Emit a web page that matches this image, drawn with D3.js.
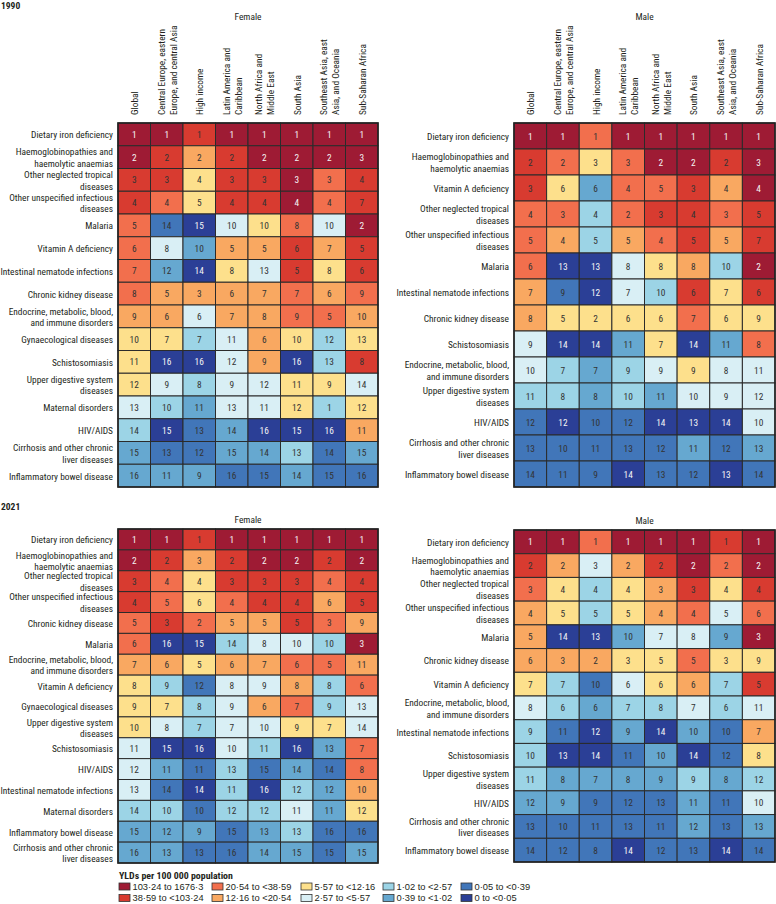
<!DOCTYPE html>
<html><head><meta charset="utf-8">
<script src="https://cdn.jsdelivr.net/npm/d3@7"></script>
<style>
body{margin:0;background:#fff;}
text{font-family:'Liberation Sans Narrow','Roboto Condensed','DejaVu Sans Condensed','Liberation Sans',sans-serif;fill:#231f20;}
text.leg{font-family:'Liberation Sans',Arial,sans-serif;}
</style></head>
<body><svg id="chart" width="776" height="904"></svg>
<script>
const regions = ["Global","Central Europe, eastern|Europe, and central Asia","High income","Latin America and|Caribbean","North Africa and|Middle East","South Asia","Southeast Asia, east|Asia, and Oceania","Sub-Saharan Africa"];
const binLabels = ["103·24 to 1676·3","38·59 to <103·24","20·54 to <38·59","12·16 to <20·54","5·57 to <12·16","2·57 to <5·57","1·02 to <2·57","0·39 to <1·02","0·05 to <0·39","0 to <0·05"];
const binColors = ["#9e1b34","#d83b30","#f26f4d","#f9a861","#fde08c","#d9eff5","#9cd4e6","#66a8d0","#4176b9","#2b3f96"];

const causesF1990 = ["Dietary iron deficiency","Haemoglobinopathies and|haemolytic anaemias","Other neglected tropical|diseases","Other unspecified infectious|diseases","Malaria","Vitamin A deficiency","Intestinal nematode infections","Chronic kidney disease","Endocrine, metabolic, blood,|and immune disorders","Gynaecological diseases","Schistosomiasis","Upper digestive system|diseases","Maternal disorders","HIV/AIDS","Cirrhosis and other chronic|liver diseases","Inflammatory bowel disease"];
const ranksF1990 = [[1,1,1,1,1,1,1,1],[2,2,2,2,2,2,2,3],[3,3,4,3,3,3,3,4],[4,4,5,4,4,4,4,7],[5,14,15,10,10,8,10,2],[6,8,10,5,5,6,7,5],[7,12,14,8,13,5,8,6],[8,5,3,6,7,7,6,9],[9,6,6,7,8,9,5,10],[10,7,7,11,6,10,12,13],[11,16,16,12,9,16,13,8],[12,9,8,9,12,11,9,14],[13,10,11,13,11,12,1,12],[14,15,13,14,16,15,16,11],[15,13,12,15,14,13,14,15],[16,11,9,16,15,14,15,16]];
const binsF1990 = [[0,0,1,0,0,0,0,0],[0,1,3,1,0,0,0,0],[1,1,4,1,1,0,2,1],[1,2,4,1,1,0,2,1],[2,8,9,5,4,2,5,0],[2,5,7,3,3,1,3,1],[2,7,9,4,5,1,4,1],[2,3,3,3,3,2,3,2],[3,3,5,3,3,2,2,3],[4,4,6,5,3,4,6,4],[4,9,9,5,3,9,6,1],[4,5,6,5,5,4,4,5],[5,6,7,5,5,4,6,4],[6,9,8,7,9,9,9,3],[7,8,8,7,7,6,8,7],[7,7,7,8,8,7,8,8]];

const causesM1990 = ["Dietary iron deficiency","Haemoglobinopathies and|haemolytic anaemias","Vitamin A deficiency","Other neglected tropical|diseases","Other unspecified infectious|diseases","Malaria","Intestinal nematode infections","Chronic kidney disease","Schistosomiasis","Endocrine, metabolic, blood,|and immune disorders","Upper digestive system|diseases","HIV/AIDS","Cirrhosis and other chronic|liver diseases","Inflammatory bowel disease"];
const ranksM1990 = [[1,1,1,1,1,1,1,1],[2,2,3,3,2,2,2,3],[3,6,6,4,5,3,4,4],[4,3,4,2,3,4,3,5],[5,4,5,5,4,5,5,7],[6,13,13,8,8,8,10,2],[7,9,12,7,10,6,7,6],[8,5,2,6,6,7,6,9],[9,14,14,11,7,14,11,8],[10,7,7,9,9,9,8,11],[11,8,8,10,11,10,9,12],[12,12,10,12,14,13,14,10],[13,10,11,13,12,11,12,13],[14,11,9,14,13,12,13,14]];
const binsM1990 = [[0,0,2,0,0,0,0,0],[1,2,4,2,0,0,1,0],[1,4,7,2,2,1,3,0],[2,2,6,2,1,1,2,1],[2,3,6,3,2,1,3,1],[2,9,9,5,4,3,6,0],[3,8,9,5,6,1,4,1],[3,4,4,4,4,2,4,4],[5,9,9,7,4,9,7,2],[5,6,7,6,5,4,5,5],[6,6,7,6,7,5,5,5],[8,9,8,8,9,9,9,5],[8,8,8,8,8,7,8,7],[8,8,8,9,8,8,9,8]];

const causesF2021 = ["Dietary iron deficiency","Haemoglobinopathies and|haemolytic anaemias","Other neglected tropical|diseases","Other unspecified infectious|diseases","Chronic kidney disease","Malaria","Endocrine, metabolic, blood,|and immune disorders","Vitamin A deficiency","Gynaecological diseases","Upper digestive system|diseases","Schistosomiasis","HIV/AIDS","Intestinal nematode infections","Maternal disorders","Inflammatory bowel disease","Cirrhosis and other chronic|liver diseases"];
const ranksF2021 = [[1,1,1,1,1,1,1,1],[2,2,3,2,2,2,2,2],[3,4,4,3,3,3,4,4],[4,5,6,4,4,4,6,5],[5,3,2,5,5,5,3,9],[6,16,15,14,8,10,10,3],[7,6,5,6,7,6,5,11],[8,9,12,8,9,8,8,6],[9,7,8,9,6,7,9,13],[10,8,7,7,10,9,7,14],[11,15,16,10,11,16,13,7],[12,11,11,13,15,14,14,8],[13,14,14,11,16,12,12,10],[14,10,10,12,12,11,11,12],[15,12,9,15,13,13,16,16],[16,13,13,16,14,15,15,15]];
const binsF2021 = [[0,0,1,0,0,0,0,0],[0,1,3,1,0,0,1,0],[1,2,4,1,1,1,2,1],[1,2,4,2,1,1,3,1],[2,1,2,3,3,1,2,3],[2,9,9,6,5,5,6,0],[3,3,4,3,3,2,2,3],[4,6,8,5,5,3,6,2],[4,4,6,5,3,2,6,5],[4,5,6,5,5,4,4,5],[5,9,9,5,6,9,7,2],[5,7,8,6,8,7,8,2],[5,8,9,6,9,6,7,3],[6,6,8,6,6,5,7,4],[7,7,7,8,7,6,8,8],[7,7,8,8,7,7,8,7]];

const causesM2021 = ["Dietary iron deficiency","Haemoglobinopathies and|haemolytic anaemias","Other neglected tropical|diseases","Other unspecified infectious|diseases","Malaria","Chronic kidney disease","Vitamin A deficiency","Endocrine, metabolic, blood,|and immune disorders","Intestinal nematode infections","Schistosomiasis","Upper digestive system|diseases","HIV/AIDS","Cirrhosis and other chronic|liver diseases","Inflammatory bowel disease"];
const ranksM2021 = [[1,1,1,1,1,1,1,1],[2,2,3,2,2,2,2,2],[3,4,4,4,3,3,4,4],[4,5,5,5,4,4,5,6],[5,14,13,10,7,8,9,3],[6,3,2,3,5,5,3,9],[7,7,10,6,6,6,7,5],[8,6,6,7,8,7,6,11],[9,11,12,9,14,10,10,7],[10,13,14,11,10,14,12,8],[11,8,7,8,9,9,8,12],[12,9,9,12,13,11,11,10],[13,10,11,13,11,12,13,13],[14,12,8,14,12,13,14,14]];
const binsM2021 = [[0,0,2,0,0,0,1,0],[1,3,5,3,1,0,2,0],[2,4,6,4,3,1,4,1],[3,4,6,4,3,2,5,2],[3,9,9,7,5,5,7,0],[3,3,3,4,4,2,4,4],[4,6,8,5,4,3,6,1],[5,6,7,6,6,5,6,5],[6,8,9,7,9,7,8,3],[6,9,9,8,7,9,8,4],[6,7,7,7,7,6,7,6],[7,7,8,8,8,7,8,5],[8,8,8,8,8,7,8,7],[8,8,8,9,8,8,9,8]];

const svg = d3.select("#chart");
const color = d3.scaleOrdinal().domain(d3.range(binLabels.length)).range(binColors);

// calibrate font size so label widths match the reference
const probe = svg.append("text").style("font-size","10px").text("Dietary iron deficiency");
const probeW = probe.node().getComputedTextLength();
probe.remove();
const k = Math.min(1, 82 / probeW);
const FS = 10 * k;
const LH = 11.6;

function multiText(sel, str){
  const lines = str.split("|");
  lines.forEach((l,i)=>{
    sel.append("tspan").attr("x",0).attr("dy", i===0 ? (-(lines.length-1)/2*LH)+"px" : LH+"px").text(l);
  });
}

function panel(cfg){
  const g = svg.append("g");
  const x = d3.scaleBand().domain(d3.range(regions.length)).range([cfg.x0,cfg.x1]);
  const y = d3.scaleBand().domain(d3.range(cfg.causes.length)).range([cfg.y0,cfg.y1]);
  g.append("text").attr("x",(cfg.x0+cfg.x1)/2).attr("y",cfg.titleY).attr("text-anchor","middle")
    .style("font-size",FS+"px").text(cfg.title);
  if(cfg.headers){
    regions.forEach((r,i)=>{
      const t = g.append("text").attr("transform",`translate(${x(i)+x.bandwidth()/2},${cfg.y0-8}) rotate(-90)`)
        .attr("text-anchor","start").attr("dominant-baseline","central").style("font-size",FS+"px");
      multiText(t,r);
    });
  }
  cfg.causes.forEach((c,i)=>{
    const t = g.append("text").attr("transform",`translate(${cfg.x0-5},${y(i)+y.bandwidth()/2})`)
      .attr("text-anchor","end").attr("dominant-baseline","central").style("font-size",FS+"px");
    multiText(t,c);
  });
  const cells = [];
  cfg.ranks.forEach((row,i)=>row.forEach((v,j)=>cells.push({i,j,v,b:cfg.bins[i][j]})));
  g.selectAll("rect.cell").data(cells).join("rect").attr("class","cell")
    .attr("x",d=>x(d.j)).attr("y",d=>y(d.i)).attr("width",x.bandwidth()).attr("height",y.bandwidth())
    .attr("fill",d=>color(d.b)).attr("stroke","#2b2b2b").attr("stroke-width",1);
  g.selectAll("text.num").data(cells).join("text").attr("class","num")
    .attr("x",d=>x(d.j)+x.bandwidth()/2).attr("y",d=>y(d.i)+y.bandwidth()/2)
    .attr("text-anchor","middle").attr("dominant-baseline","central").style("font-size",FS+"px")
    .style("fill",d=>(d.b===0||d.b===9)?"#f4f4f4":"#333").text(d=>d.v);
  g.append("rect").attr("x",cfg.x0).attr("y",cfg.y0).attr("width",cfg.x1-cfg.x0).attr("height",cfg.y1-cfg.y0)
    .attr("fill","none").attr("stroke","#222").attr("stroke-width",1.6);
}

svg.append("text").attr("x",1).attr("y",9).style("font-size","9.5px").style("font-weight","bold").text("1990");
svg.append("text").attr("x",1).attr("y",510).style("font-size","9.5px").style("font-weight","bold").text("2021");

panel({title:"Female",titleY:20,headers:true,x0:118,x1:378,y0:123,y1:487,causes:causesF1990,ranks:ranksF1990,bins:binsF1990});
panel({title:"Male",titleY:20,headers:true,x0:514,x1:775,y0:123,y1:487,causes:causesM1990,ranks:ranksM1990,bins:binsM1990});
panel({title:"Female",titleY:523,headers:false,x0:118,x1:378,y0:529,y1:863,causes:causesF2021,ranks:ranksF2021,bins:binsF2021});
panel({title:"Male",titleY:524,headers:false,x0:514,x1:775,y0:530,y1:862,causes:causesM2021,ranks:ranksM2021,bins:binsM2021});

// legend
const lg = svg.append("g");
lg.append("text").attr("x",119).attr("y",879).style("font-size",(10.5*k)+"px").style("font-weight","bold").text("YLDs per 100 000 population");
const legX = [119,212,301,383,461];
const items = lg.selectAll("g.item").data(binLabels.map((l,i)=>({l,i}))).join("g").attr("class","item")
  .attr("transform",d=>`translate(${legX[Math.floor(d.i/2)]},${886.5+(d.i%2)*11.5})`);
items.append("rect").attr("x",0).attr("y",-3.5).attr("width",11).attr("height",7)
  .attr("fill",d=>color(d.i)).attr("stroke","#333").attr("stroke-width",0.8);
items.append("text").attr("class","leg").attr("x",13.5).attr("y",0).attr("dominant-baseline","central").style("font-size","9.3px").text(d=>d.l);
</script></body></html>
